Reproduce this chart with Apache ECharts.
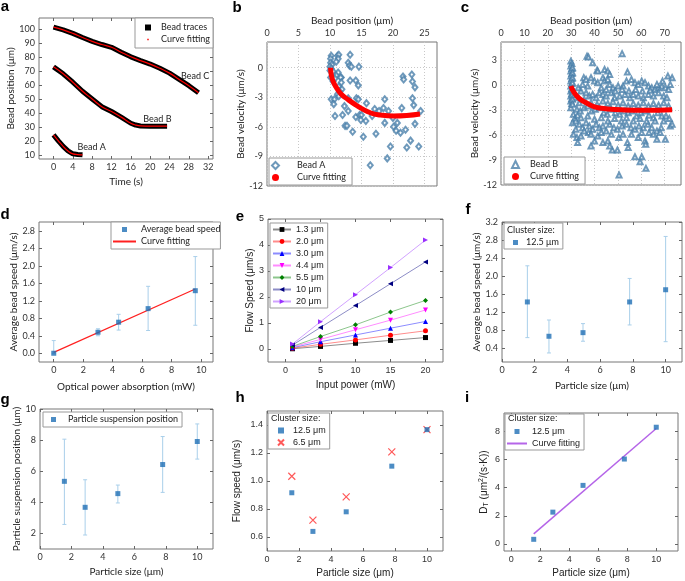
<!DOCTYPE html>
<html>
<head>
<meta charset="utf-8">
<script src="https://cdn.jsdelivr.net/npm/echarts@6.0.0/dist/echarts.min.js"></script>
<style>
html, body { margin: 0; padding: 0; background: #fff; }
#chart { width: 685px; height: 581px; }
</style>
</head>
<body>
<div id="chart"></div>
<script>
// ---------- panel a: bead traces ----------
const timeA = [0, 1, 2, 3, 4, 5, 6];
const posA = [24.3, 20, 16, 12.8, 10.7, 10.2, 10];
const timeB = [0, 2, 4, 6, 8, 10, 12, 14, 16, 17, 18, 20, 22, 23.5];
const posB = [73, 68, 62, 55.5, 50, 44.5, 41, 37, 32.6, 31.3, 30.7, 30.5, 30.5, 30.5];
const timeC = [0, 2, 4, 6, 8, 10, 12, 14, 16, 18, 20, 22, 24, 26, 28, 30];
const posC = [101.5, 99.5, 97, 94, 91.3, 89, 87, 83.5, 80.2, 77.5, 75, 72, 68.5, 64, 59.5, 54.5];
const beadLabels = [['Bead A', 7.9, 15.2], ['Bead B', 21.5, 35.9], ['Bead C', 29.3, 66.4]];

// ---------- panel b: bead A velocity ----------
const beadAPoints = [
  [10.2,1.2],[11.2,1.2],[11.4,1.3],[13.2,1.3],[10.1,0.9],[11.3,0.9],[11.0,0.6],[12.9,0.5],[13.1,0.2],
  [13.4,0.1],[14.6,0.1],[10.1,0.5],[10.3,0.3],[10.0,0.1],[10.2,-0.1],[10.0,-0.3],[10.5,-0.4],[11.3,-0.5],
  [11.0,-0.8],[11.8,-1.0],[10.1,-1.0],[10.8,-1.1],[10.5,-1.4],[11.7,-1.0],[13.2,-1.3],[14.1,-1.3],[14.5,-1.8],
  [21.6,-0.9],[21.7,-1.2],[23.0,-0.7],[23.1,-1.4],[23.5,-2.0],[11.8,-1.5],[11.4,-1.9],[11.9,-2.2],[11.5,-2.4],
  [11.2,-2.7],[10.2,-3.2],[10.7,-3.2],[10.6,-3.7],[11.4,-2.9],[12.9,-3.1],[14.2,-3.1],[14.5,-3.2],[15.8,-3.6],
  [17.1,-4.2],[18.7,-3.2],[17.8,-4.4],[19.3,-4.4],[18.5,-4.1],[23.1,-3.1],[23.3,-3.8],[21.4,-4.1],[24.4,-4.4],
  [12.3,-3.9],[12.9,-4.4],[10.8,-4.9],[12.0,-4.8],[14.1,-5.0],[14.7,-4.8],[15.0,-4.8],[14.9,-5.3],[15.7,-5.4],
  [16.7,-4.9],[18.7,-5.6],[20.0,-5.1],[20.1,-6.0],[20.7,-5.6],[20.5,-6.4],[21.2,-6.6],[22.0,-6.3],[23.5,-5.7],
  [12.4,-5.9],[12.7,-5.9],[13.6,-6.5],[15.3,-7.0],[17.3,-6.7],[19.6,-8.0],[22.2,-8.1],[22.8,-7.4],[24.1,-8.0],
  [19.1,-9.2],[16.4,-9.9]
];
const fitAPos = [10.1, 10.2, 10.5, 11.0, 11.8, 12.8, 13.9, 14.9, 16.5, 18, 20.1, 22.2, 24.3];
const fitAVel = [0, -0.7, -1.4, -2.0, -2.7, -3.2, -3.7, -4.1, -4.6, -4.8, -4.9, -4.85, -4.7];

// ---------- panel c: bead B velocity ----------
const beadBPoints = [
  [29.9,2.9],[30.3,2.6],[29.9,2.3],[30.3,2.0],[29.9,1.7],[30.3,1.4],[29.9,1.1],[30.3,0.8],[29.9,0.5],[30.3,0.2],
  [29.9,-0.1],[30.3,-0.4],[29.9,-0.7],[30.3,-1.0],[29.9,-1.3],[30.3,-1.6],[29.9,-1.9],[30.3,-2.2],[29.9,-2.7],
  [30.6,2.1],[30.6,1.5],[30.6,0.9],[30.6,0.3],[30.6,-0.5],[30.6,-1.1],[30.6,-1.7],[30.6,-2.3],[31.0,-3.5],
  [31.6,-4.0],[32.8,-3.6],[30.6,-4.5],[32.0,-4.3],[31.0,-5.9],[32.5,-6.3],
  [36.8,3.5],[37.4,3.4],[39.2,2.7],[41.1,1.8],[41.4,1.7],[44.3,1.9],[45.7,1.7],[46.5,1.3],[51.8,3.8],[54.1,1.6],
  [35.4,0.9],[36.4,0.7],[38.5,0.9],[40.0,0.5],[41.4,0.3],[43.6,0.9],[44.3,0.5],[45.7,0.7],[46.5,0.1],[47.9,-0.3],
  [50.1,-0.1],[52.2,-0.1],[53.7,0.5],[55.8,0.7],[57.3,0.3],[58.7,0.1],[60.2,0.5],[61.6,0.3],[63.1,-0.1],[64.5,-0.3],
  [65.9,-0.5],[67.4,-0.3],[68.8,-0.1],[70.3,-0.3],[71.7,-0.5],[71.4,1.1],[73.2,0.9],
  [31.6,-1.1],[33.0,-1.5],[34.2,-0.7],[36.4,-0.9],[37.8,-1.3],[39.2,-1.1],[40.7,-1.5],[42.1,-0.9],[43.6,-1.1],
  [45.0,-1.3],[47.2,-0.9],[48.6,-1.5],[50.8,-1.3],[53.0,-1.1],[55.1,-1.5],[56.6,-1.1],[58.7,-1.3],[60.9,-1.5],
  [63.1,-1.1],[65.2,-1.3],[67.4,-0.9],[69.6,-1.3],[71.0,-1.5],
  [32.5,-2.9],[33.9,-3.1],[35.6,-2.7],[37.1,-2.5],[38.8,-3.1],[40.3,-2.9],[42.1,-2.7],[44.0,-3.3],[45.5,-3.5],
  [47.2,-2.9],[48.9,-3.3],[50.8,-3.5],[52.7,-3.1],[54.4,-3.3],[56.1,-3.1],[58.0,-3.7],[59.9,-3.3],[61.6,-3.1],
  [63.3,-3.6],[65.2,-3.9],[67.1,-3.3],[68.8,-3.7],[70.6,-3.7],
  [33.5,-4.7],[34.9,-5.1],[36.4,-4.5],[37.8,-4.9],[39.2,-5.3],[40.7,-4.7],[42.1,-5.1],[43.6,-4.9],[45.0,-5.5],
  [46.5,-4.7],[48.3,-5.1],[49.8,-5.3],[51.8,-4.9],[53.7,-4.7],[55.6,-5.1],[57.3,-5.3],[59.0,-4.9],[60.9,-5.1],
  [62.8,-4.7],[64.5,-5.1],[66.7,-5.5],[68.5,-5.1],[70.3,-6.5],[72.4,-4.9],[73.2,-4.7],
  [34.2,-6.1],[37.4,-5.7],[40.0,-6.7],[41.4,-6.1],[43.6,-6.9],[45.7,-6.7],[47.6,-7.8],[49.8,-7.8],[50.4,-6.3],
  [54.1,-6.9],[58.7,-6.3],[61.6,-6.7],[63.3,-5.7],[66.7,-6.5],[57.3,-8.6],[59.5,-9.2],[60.2,-8.6],[62.0,-10.0],
  [61.9,-7.1],[50.5,-10.8],
  [34.9,0.1],[33.0,-0.3],[37.1,-0.1],[42.9,-0.3],[45.0,-0.5],[48.9,-0.7],[51.8,-0.5],[54.7,-0.7],[57.6,-0.5],
  [60.5,-0.7],[63.8,-0.6],[66.7,0.1],[69.1,0.5],[72.4,0.1],
  [33.5,-2.1],[35.6,-1.7],[38.5,-2.1],[41.1,-2.3],[43.6,-1.9],[45.7,-2.2],[47.9,-2.0],[50.1,-2.4],[52.2,-2.1],
  [54.4,-2.5],[56.6,-2.2],[58.7,-2.4],[60.9,-2.1],[63.1,-2.5],[65.2,-2.2],[67.4,-2.4],[69.6,-2.1],[71.7,-2.5],
  [34.2,-3.9],[37.1,-3.7],[40.0,-4.1],[42.9,-3.9],[45.7,-4.3],[48.6,-4.0],[51.5,-4.3],[53.7,-3.9],[56.6,-4.3],
  [59.5,-4.0],[62.3,-4.3],[65.9,-4.3],[69.6,-4.3],[72.0,-4.0],
  [35.6,-5.5],[38.5,-5.9],[42.9,-5.7],[47.2,-5.9],[52.2,-5.9],[55.8,-5.9],[60.2,-5.7],[65.2,-5.9],[68.1,-5.7],
  [32.0,-5.3],[32.8,-6.9],[38.5,-7.3],[46.5,-7.3],[54.4,-7.5]
];
const fitBPos = [29.9, 31.3, 33.5, 36.4, 40, 45.7, 53, 60.2, 67.4, 73.2];
const fitBVel = [-0.1, -0.9, -1.6, -2.1, -2.6, -2.85, -2.97, -3.0, -3.0, -2.95];

// ---------- panel d: speed vs absorbed power ----------
const absorbPower = [0, 3, 4.4, 6.4, 9.6];
const avgSpeed = [0, 0.48, 0.71, 1.02, 1.43];
const avgSpeedLo = [0, 0.4, 0.53, 0.52, 0.64];
const avgSpeedHi = [0.29, 0.56, 0.89, 1.53, 2.21];
const fitDX = [0, 9.6];
const fitDY = [0.02, 1.47];

// ---------- panel e: flow speed vs input power ----------
const inputPower = [1, 5, 10, 15, 20];
const sizeNames = ['1.3 μm', '2.0 μm', '3.0 μm', '4.4 μm', '5.5 μm', '10 μm', '20 μm'];
const flowSpeed = [
  [0.01, 0.1, 0.22, 0.33, 0.44],
  [0.03, 0.18, 0.35, 0.53, 0.7],
  [0.05, 0.28, 0.54, 0.8, 1.06],
  [0.08, 0.37, 0.74, 1.11, 1.5],
  [0.1, 0.48, 0.93, 1.42, 1.87],
  [0.15, 0.83, 1.67, 2.51, 3.35],
  [0.19, 1.05, 2.09, 3.13, 4.19]
];
const sizeColors = ['#000000', '#ff0000', '#0000ff', '#ff00ff', '#008000', '#000080', '#9a30ff'];
const sizeSymbols = ['rect', 'circle', 'triangle', 'triangle', 'diamond', 'triangle', 'triangle'];
const sizeRotate = [0, 0, 0, 180, 0, 90, -90];

// ---------- panels f-i: particle size ----------
const particleSize = [1.55, 2.87, 4.95, 7.8, 10];
const fSpeed = [1.43, 0.67, 0.75, 1.43, 1.7];
const fLo = [0.64, 0.3, 0.56, 0.92, 0.55];
const fHi = [2.23, 1.03, 0.95, 1.95, 2.88];
const gPos = [5.35, 3.68, 4.56, 6.43, 7.91];
const gLo = [2.58, 1.9, 3.96, 4.64, 6.78];
const gHi = [8.06, 5.45, 5.11, 8.23, 9.04];
const hFlow125 = [0.916, 0.64, 0.78, 1.106, 1.367];
const hFlow65 = [1.034, 0.72, 0.887, 1.208, 1.367];
const iDT = [0.33, 2.26, 4.16, 6.03, 8.29];
const fitIX = [1.55, 10];
const fitIY = [0.72, 8.2];

const LABELS = {
  traces: 'Bead traces', fitA: 'Curve fitting', beadA: 'Bead A', fitBa: 'Curve fitting',
  beadB: 'Bead B', fitBb: 'Curve fitting', dAvg: 'Average bead speed', dFit: 'Curve fitting',
  f125: '12.5 μm', gPos: 'Particle suspension position', h125: '12.5 μm', h65: '6.5 μm',
  i125: '12.5 μm', iFit: 'Curve fitting'
};

const FONT1 = 'Lato, sans-serif';
const FONT2 = '"Liberation Sans", Arial, sans-serif';
const BLUE = '#1f6fb5';
const ERR = '#a9cfea';
// legend icons: a centred square, and a small dot inside an empty 10x10 box
const SQUARE = 'path://M0,0h10v10h-10z';
const DOT = 'path://M0,0M10,10M3.8,3.8h2.4v2.4h-2.4z';

const zip = (xs, ys) => xs.map((x, i) => [x, ys[i]]);
const range = (a, b, s) => { const r = []; for (let v = a; v <= b + 1e-9; v += s) r.push(+v.toFixed(4)); return r; };

function makeGrid(l, t, w, h) {
  return { left: l, top: t, width: w, height: h, show: true, borderColor: '#777', borderWidth: 1,
           backgroundColor: 'transparent', outerBoundsMode: 'none' };
}

function makeAxis(gi, o) {
  return {
    type: 'value', gridIndex: gi, min: o.min, max: o.max, position: o.pos,
    name: o.name, nameLocation: 'middle', nameGap: o.gap,
    nameTextStyle: Object.assign({ fontFamily: o.font, fontSize: 10, color: '#222' }, o.nameStyle || {}),
    axisLine: { show: false, onZero: false },
    axisTick: { show: o.tick !== false, inside: true, length: 3, customValues: o.ticks,
                lineStyle: { color: '#666' } },
    axisLabel: { customValues: o.ticks, fontFamily: o.font, fontSize: 9, color: '#333', margin: 4,
                 formatter: o.fmt },
    splitLine: { show: !!o.grid, lineStyle: { type: [1, 2], color: '#c8c8c8' } }
  };
}

// tick-only copy of an axis on the opposite side of the box
function mirror(ax, pos) {
  return Object.assign({}, ax, { position: pos, name: '', axisLabel: { show: false },
                                 splitLine: { show: false } });
}

function errorBars(gi, xs, lo, hi) {
  return {
    type: 'custom', xAxisIndex: gi, yAxisIndex: gi, silent: true, z: 1,
    data: xs.map((x, i) => [x, lo[i], hi[i]]),
    encode: { x: 0, y: [1, 2] },
    renderItem(params, api) {
      const x = api.value(0);
      const a = api.coord([x, api.value(1)]);
      const b = api.coord([x, api.value(2)]);
      const st = { stroke: ERR, lineWidth: 1 };
      return { type: 'group', children: [
        { type: 'line', shape: { x1: a[0], y1: a[1], x2: b[0], y2: b[1] }, style: st },
        { type: 'line', shape: { x1: a[0] - 2, y1: a[1], x2: a[0] + 2, y2: a[1] }, style: st },
        { type: 'line', shape: { x1: b[0] - 2, y1: b[1], x2: b[0] + 2, y2: b[1] }, style: st }
      ]};
    }
  };
}

function legendBox(o) {
  return Object.assign({
    orient: 'vertical', borderColor: '#999', borderWidth: 1, backgroundColor: '#fff',
    itemGap: 1, selectedMode: false, symbolKeepAspect: true, formatter: n => LABELS[n] || n,
    textStyle: { fontFamily: o.font, fontSize: 9, color: '#222', lineHeight: 11,
                 padding: [0, 0, 0, o.textPad || 0] }
  }, o.opt);
}

const grids = [
  makeGrid(39, 18, 174, 141),
  makeGrid(267, 42, 170, 144),
  makeGrid(501, 42, 180, 143),
  makeGrid(39, 222, 174, 140),
  makeGrid(268, 219, 175, 143),
  makeGrid(502, 222, 180, 140),
  makeGrid(40, 409, 173, 140),
  makeGrid(267, 411, 176, 140),
  makeGrid(504, 413, 174, 138)
];

const xAxes = [
  makeAxis(0, { min: -3, max: 33, ticks: range(0, 32, 4), name: 'Time (s)', gap: 18, font: FONT1 }),
  makeAxis(1, { min: 0, max: 27, ticks: range(0, 25, 5), name: 'Bead position (μm)', gap: 16, font: FONT1,
                pos: 'top', tick: false, grid: true }),
  makeAxis(2, { min: 0, max: 77, ticks: range(0, 70, 10), name: 'Bead position (μm)', gap: 16, font: FONT1,
                pos: 'top', tick: false, grid: true }),
  makeAxis(3, { min: -1, max: 10.8, ticks: range(0, 10, 2), name: 'Optical power absorption (mW)', gap: 20, font: FONT1 }),
  makeAxis(4, { min: -2.5, max: 22.5, ticks: range(0, 20, 5), name: 'Input power (mW)', gap: 18, font: FONT2 }),
  makeAxis(5, { min: 0, max: 11, ticks: range(0, 10, 2), name: 'Particle size (μm)', gap: 19, font: FONT1 }),
  makeAxis(6, { min: 0, max: 11, ticks: range(0, 10, 2), name: 'Particle size (μm)', gap: 18, font: FONT1 }),
  makeAxis(7, { min: 0, max: 11, ticks: range(0, 10, 2), name: 'Particle size (μm)', gap: 17, font: FONT2 }),
  makeAxis(8, { min: -0.5, max: 11.5, ticks: range(0, 10, 2), name: 'Particle size (μm)', gap: 17, font: FONT2 })
];

const fix1 = v => v.toFixed(1);
const yAxes = [
  makeAxis(0, { min: 7, max: 108, ticks: range(10, 100, 10), name: 'Bead position (μm)', gap: 16, font: FONT1 }),
  makeAxis(1, { min: -12, max: 2.6, ticks: range(-12, 0, 3), name: 'Bead velocity (μm/s)', gap: 15, font: FONT1,
                tick: false, grid: true }),
  makeAxis(2, { min: -12, max: 5.2, ticks: range(-12, 3, 3), name: 'Bead velocity (μm/s)', gap: 18, font: FONT1,
                tick: false, grid: true }),
  makeAxis(3, { min: -0.2, max: 3.0, ticks: range(0, 2.8, 0.4), name: 'Average bead speed (μm/s)', gap: 16,
                font: FONT1, fmt: fix1 }),
  makeAxis(4, { min: -0.5, max: 5, ticks: range(0, 5, 1), name: 'Flow Speed (μm/s)', gap: 9, font: FONT2 }),
  makeAxis(5, { min: 0.1, max: 3.2, ticks: range(0.4, 3.2, 0.4), name: 'Average bead speed (μm/s)', gap: 17,
                font: FONT1, fmt: fix1 }),
  makeAxis(6, { min: 1, max: 10, ticks: range(2, 10, 2), name: 'Particle suspension position (μm)', gap: 13, font: FONT1 }),
  makeAxis(7, { min: 0.5, max: 1.5, ticks: range(0.6, 1.4, 0.2), name: 'Flow speed (μm/s)', gap: 25, font: FONT2,
                fmt: fix1 }),
  makeAxis(8, { min: -0.5, max: 9.3, ticks: range(0, 8, 2), name: 'D{sub|T} (μm{sup|2}/(s·K))', gap: 14, font: FONT2,
                nameStyle: { rich: { sub: { fontSize: 7, fontFamily: FONT2, padding: [5, 0, 0, 0] },
                                     sup: { fontSize: 7, fontFamily: FONT2, padding: [0, 0, 5, 0] } } } })
];

// mirrored ticks on top / right for the boxed panels (not b, c)
[0, 3, 4, 5, 6, 7, 8].forEach(gi => {
  xAxes.push(mirror(xAxes[gi], 'top'));
  yAxes.push(mirror(yAxes[gi], 'right'));
});

const series = [];

// panel a
[[timeA, posA], [timeB, posB], [timeC, posC]].forEach(([t, p], k) => {
  series.push({
    name: 'traces', type: 'line', xAxisIndex: 0, yAxisIndex: 0, data: zip(t, p), symbol: 'rect',
    showSymbol: false, itemStyle: { color: '#000' },
    lineStyle: { color: '#000', width: 5 }, silent: true,
    markPoint: k === 0 ? {
      symbolSize: 0, silent: true,
      label: { show: true, formatter: p => p.name, color: '#222', fontFamily: FONT1, fontSize: 9 },
      data: beadLabels.map(([n, x, y]) => ({ name: n, coord: [x, y] }))
    } : undefined
  });
});
[[timeA, posA], [timeB, posB], [timeC, posC]].forEach(([t, p]) => {
  series.push({
    name: 'fitA', type: 'line', xAxisIndex: 0, yAxisIndex: 0, data: zip(t, p), smooth: true,
    symbol: 'circle', showSymbol: false, itemStyle: { color: '#ff0000' },
    lineStyle: { color: '#ff0000', width: 1.2 }, silent: true
  });
});

// panel b
series.push({
  name: 'beadA', type: 'scatter', xAxisIndex: 1, yAxisIndex: 1, data: beadAPoints,
  symbol: 'emptyDiamond', symbolSize: [5, 6],
  itemStyle: { color: '#4a80aa', borderWidth: 1 }
});
series.push({
  name: 'fitBa', type: 'line', xAxisIndex: 1, yAxisIndex: 1, data: zip(fitAPos, fitAVel), smooth: true,
  symbol: 'circle', showSymbol: false, itemStyle: { color: '#ff0000' },
  lineStyle: { color: '#ff0000', width: 5 }
});

// panel c
series.push({
  name: 'beadB', type: 'scatter', xAxisIndex: 2, yAxisIndex: 2, data: beadBPoints,
  symbol: 'emptyTriangle', symbolSize: 5,
  itemStyle: { color: '#4a80aa', borderWidth: 1 }
});
series.push({
  name: 'fitBb', type: 'line', xAxisIndex: 2, yAxisIndex: 2, data: zip(fitBPos, fitBVel), smooth: true,
  symbol: 'circle', showSymbol: false, itemStyle: { color: '#ff0000' },
  lineStyle: { color: '#ff0000', width: 5 }
});

// panel d
series.push(errorBars(3, absorbPower, avgSpeedLo, avgSpeedHi));
series.push({
  name: 'dFit', type: 'line', xAxisIndex: 3, yAxisIndex: 3, data: zip(fitDX, fitDY), symbol: 'none',
  itemStyle: { color: '#ff2020' }, lineStyle: { color: '#ff2020', width: 1.2 }
});
series.push({
  name: 'dAvg', type: 'scatter', xAxisIndex: 3, yAxisIndex: 3, data: zip(absorbPower, avgSpeed),
  symbol: 'rect', symbolSize: 5, itemStyle: { color: BLUE }, z: 3
});

// panel e
sizeNames.forEach((n, k) => {
  series.push({
    name: n, type: 'line', xAxisIndex: 4, yAxisIndex: 4, data: zip(inputPower, flowSpeed[k]),
    symbol: sizeSymbols[k], symbolRotate: sizeRotate[k], symbolSize: 5, showSymbol: true,
    itemStyle: { color: sizeColors[k] }, lineStyle: { color: sizeColors[k], width: 1, opacity: 0.45 }
  });
});

// panel f
series.push(errorBars(5, particleSize, fLo, fHi));
series.push({
  name: 'f125', type: 'scatter', xAxisIndex: 5, yAxisIndex: 5, data: zip(particleSize, fSpeed),
  symbol: 'rect', symbolSize: 5, itemStyle: { color: BLUE }, z: 3
});

// panel g
series.push(errorBars(6, particleSize, gLo, gHi));
series.push({
  name: 'gPos', type: 'scatter', xAxisIndex: 6, yAxisIndex: 6, data: zip(particleSize, gPos),
  symbol: 'rect', symbolSize: 5, itemStyle: { color: BLUE }, z: 3
});

// panel h
series.push({
  name: 'h125', type: 'scatter', xAxisIndex: 7, yAxisIndex: 7, data: zip(particleSize, hFlow125),
  symbol: 'rect', symbolSize: 5, itemStyle: { color: BLUE }, z: 3
});
series.push({
  name: 'h65', type: 'scatter', xAxisIndex: 7, yAxisIndex: 7, data: zip(particleSize, hFlow65),
  symbol: 'path://M0,0L10,10M10,0L0,10', symbolSize: 7, symbolKeepAspect: true,
  itemStyle: { color: 'rgba(0,0,0,0)', borderColor: '#ff3030', borderWidth: 1.2 }
});

// panel i
series.push({
  name: 'iFit', type: 'line', xAxisIndex: 8, yAxisIndex: 8, data: zip(fitIX, fitIY), symbol: 'none',
  itemStyle: { color: '#b565e8' }, lineStyle: { color: '#b565e8', width: 1.5 }
});
series.push({
  name: 'i125', type: 'scatter', xAxisIndex: 8, yAxisIndex: 8, data: zip(particleSize, iDT),
  symbol: 'rect', symbolSize: 5, itemStyle: { color: BLUE }, z: 3
});

const noSymbol = { opacity: 0 };
const legends = [
  legendBox({ font: FONT1, textPad: 5, opt: { left: 135, top: 18, padding: [4, 3, 3, 10], itemWidth: 6, itemHeight: 6,
    data: [{ name: 'traces', icon: SQUARE }, { name: 'fitA', icon: DOT }] } }),
  legendBox({ font: FONT1, textPad: 13, opt: { left: 269, top: 158, padding: [2, 6, 2, 2], itemWidth: 7, itemHeight: 7,
    data: [{ name: 'beadA' }, { name: 'fitBa', icon: 'circle' }] } }),
  legendBox({ font: FONT1, textPad: 6, opt: { left: 504, top: 157, padding: [2, 6, 2, 7], itemWidth: 7, itemHeight: 7,
    data: [{ name: 'beadB' }, { name: 'fitBb', icon: 'circle' }] } }),
  legendBox({ font: FONT1, opt: { left: 111, top: 222, padding: [2, 0, 2, 1], itemWidth: 23, itemHeight: 5,
    data: [{ name: 'dAvg', icon: SQUARE }, { name: 'dFit', itemStyle: noSymbol }] } }),
  legendBox({ font: FONT2, opt: { left: 270, top: 223, padding: [1, 4, 1, 2], itemWidth: 18, itemHeight: 6, itemGap: 1,
    data: sizeNames } }),
  legendBox({ font: FONT1, textPad: 3, opt: { left: 504, top: 223, padding: [14, 4, 1, 9], itemWidth: 5, itemHeight: 5,
    data: [{ name: 'f125', icon: SQUARE }] } }),
  legendBox({ font: FONT1, textPad: 7, opt: { left: 43, top: 412, padding: [2, 4, 2, 8], itemWidth: 5, itemHeight: 5,
    data: [{ name: 'gPos', icon: SQUARE }] } }),
  legendBox({ font: FONT2, textPad: 4, opt: { left: 268, top: 413, padding: [12, 4, 1, 9], itemWidth: 6, itemHeight: 6,
    data: [{ name: 'h125', icon: SQUARE }, { name: 'h65' }] } }),
  legendBox({ font: FONT2, opt: { left: 505, top: 414, padding: [12, 4, 1, 1], itemWidth: 20, itemHeight: 5,
    data: [{ name: 'i125', icon: SQUARE }, { name: 'iFit', itemStyle: noSymbol }] } })
];

const panelLetters = [['a', 5, 7], ['b', 237, 8], ['c', 465, 8], ['d', 5, 215], ['e', 240, 217],
                      ['f', 468, 210], ['g', 5, 400], ['h', 240, 398], ['i', 467, 398]];
const clusterTitles = [[507, 230, FONT1], [271, 419, FONT2], [508, 419, FONT2]];

const graphic = panelLetters.map(([t, x, y]) => ({
  type: 'text', x: x, y: y, z: 100,
  style: { text: t, font: 'bold 15px "Liberation Sans", Arial, sans-serif', fill: '#000',
           align: 'center', verticalAlign: 'middle' }
})).concat(clusterTitles.map(([x, y, f]) => ({
  type: 'text', x: x, y: y, z: 100,
  style: { text: 'Cluster size:', fontFamily: f, fontSize: 9, fill: '#222', align: 'left', verticalAlign: 'middle' }
})));

const chart = echarts.init(document.getElementById('chart'));
chart.setOption({
  animation: false,
  backgroundColor: '#fff',
  grid: grids,
  xAxis: xAxes,
  yAxis: yAxes,
  legend: legends,
  graphic: graphic,
  series: series
});
</script>
</body>
</html>
